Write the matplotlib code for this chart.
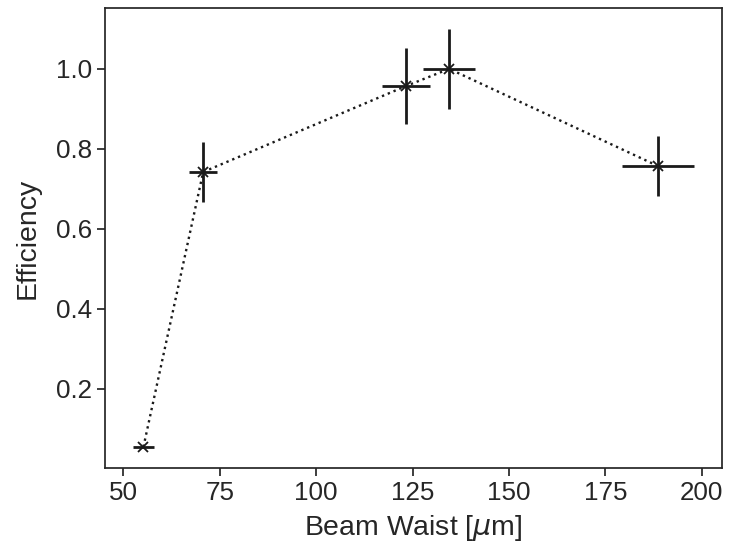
import matplotlib
matplotlib.use('Agg')
import matplotlib.pyplot as plt
import seaborn as sns

# beam waist scan
waist = [55.2, 70.7, 123.3, 134.5, 188.6]
waist_err = [2.7, 3.6, 6.1, 6.7, 9.3]
eff = [0.054, 0.742, 0.957, 1.0, 0.757]
eff_err = [0.0, 0.075, 0.096, 0.10, 0.075]

sns.set_theme(style='ticks', context='notebook', font_scale=1.7)
plt.rcParams['font.family'] = ['Liberation Sans', 'DejaVu Sans']

fig = plt.figure(figsize=(7.29, 5.51), dpi=100)
ax = fig.add_axes([0.144, 0.151, 0.846, 0.8345])
ax.errorbar(waist, eff, xerr=waist_err, yerr=eff_err, fmt='x', color='k',
            ls=':', lw=1.7, ecolor='k', elinewidth=2, capsize=0,
            markersize=7, mew=1.3)
ax.set_xlabel(r'Beam Waist [$\mu$m]', labelpad=6)
ax.set_ylabel('Efficiency', labelpad=11)
ax.set_xticks([50, 75, 100, 125, 150, 175, 200])
ax.set_yticks([0.2, 0.4, 0.6, 0.8, 1.0])
fig.savefig('out.png', dpi=100)
